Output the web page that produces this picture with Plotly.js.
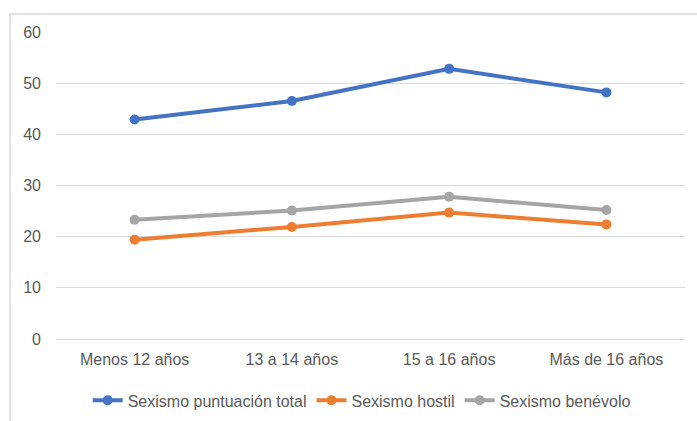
<!DOCTYPE html>
<html>
<head>
<meta charset="utf-8">
<script src="https://cdn.plot.ly/plotly-3.0.1.min.js"></script>
<style>html,body{margin:0;padding:0;background:#fff;}#chart{width:697px;height:421px;}</style>
</head>
<body>
<div id="chart"></div>
<script>
const categories = ["Menos 12 años", "13 a 14 años", "15 a 16 años", "Más de 16 años"];
const seriesNames = ["Sexismo puntuación total", "Sexismo hostil", "Sexismo benévolo"];
const totalValues = [42.9, 46.5, 52.8, 48.2];
const hostilValues = [19.4, 21.9, 24.7, 22.4];
const benevoloValues = [23.3, 25.1, 27.8, 25.2];
const yTicks = [0, 10, 20, 30, 40, 50, 60];

const colors = ["#4472C4", "#ED7D31", "#A5A5A5"];
const font = "Liberation Sans, Arial, sans-serif";

function trace(name, vals, color) {
  return {
    x: categories, y: vals, name: name, type: "scatter", mode: "lines+markers",
    line: {color: color, width: 4},
    marker: {color: color, size: 10}
  };
}

const data = [
  trace(seriesNames[0], totalValues, colors[0]),
  trace(seriesNames[1], hostilValues, colors[1]),
  trace(seriesNames[2], benevoloValues, colors[2])
];

const layout = {
  width: 697, height: 421,
  margin: {l: 56, r: 12, t: 32, b: 82, autoexpand: false},
  paper_bgcolor: "#fff", plot_bgcolor: "#fff",
  font: {family: font, size: 15, color: "#595959"},
  showlegend: true,
  legend: {orientation: "h", x: 0.486, xanchor: "center", y: -0.2, yanchor: "middle",
           font: {family: font, size: 16, color: "#595959"}, itemwidth: 30, tracegroupgap: 0},
  xaxis: {type: "category", range: [-0.5, 3.5], showgrid: false, showline: false, zeroline: false, ticks: "",
          ticklabelstandoff: 9, tickfont: {size: 16}, fixedrange: true},
  yaxis: {range: [0, 60], tickvals: yTicks, ticktext: yTicks.map(String), showgrid: true,
          gridcolor: "#d9d9d9", gridwidth: 1, zeroline: true, zerolinecolor: "#d9d9d9", zerolinewidth: 1,
          showline: false, ticks: "", ticklabelstandoff: 14, tickfont: {size: 16}, fixedrange: true},
  shapes: [{type: "rect", xref: "paper", yref: "paper", x0: -0.0731, x1: 1.2, y0: -0.5, y1: 1.0586,
            line: {color: "#d9d9d9", width: 1.5}, fillcolor: "rgba(0,0,0,0)", layer: "below"}]
};

Plotly.newPlot("chart", data, layout, {displayModeBar: false, staticPlot: true});
</script>
</body>
</html>
